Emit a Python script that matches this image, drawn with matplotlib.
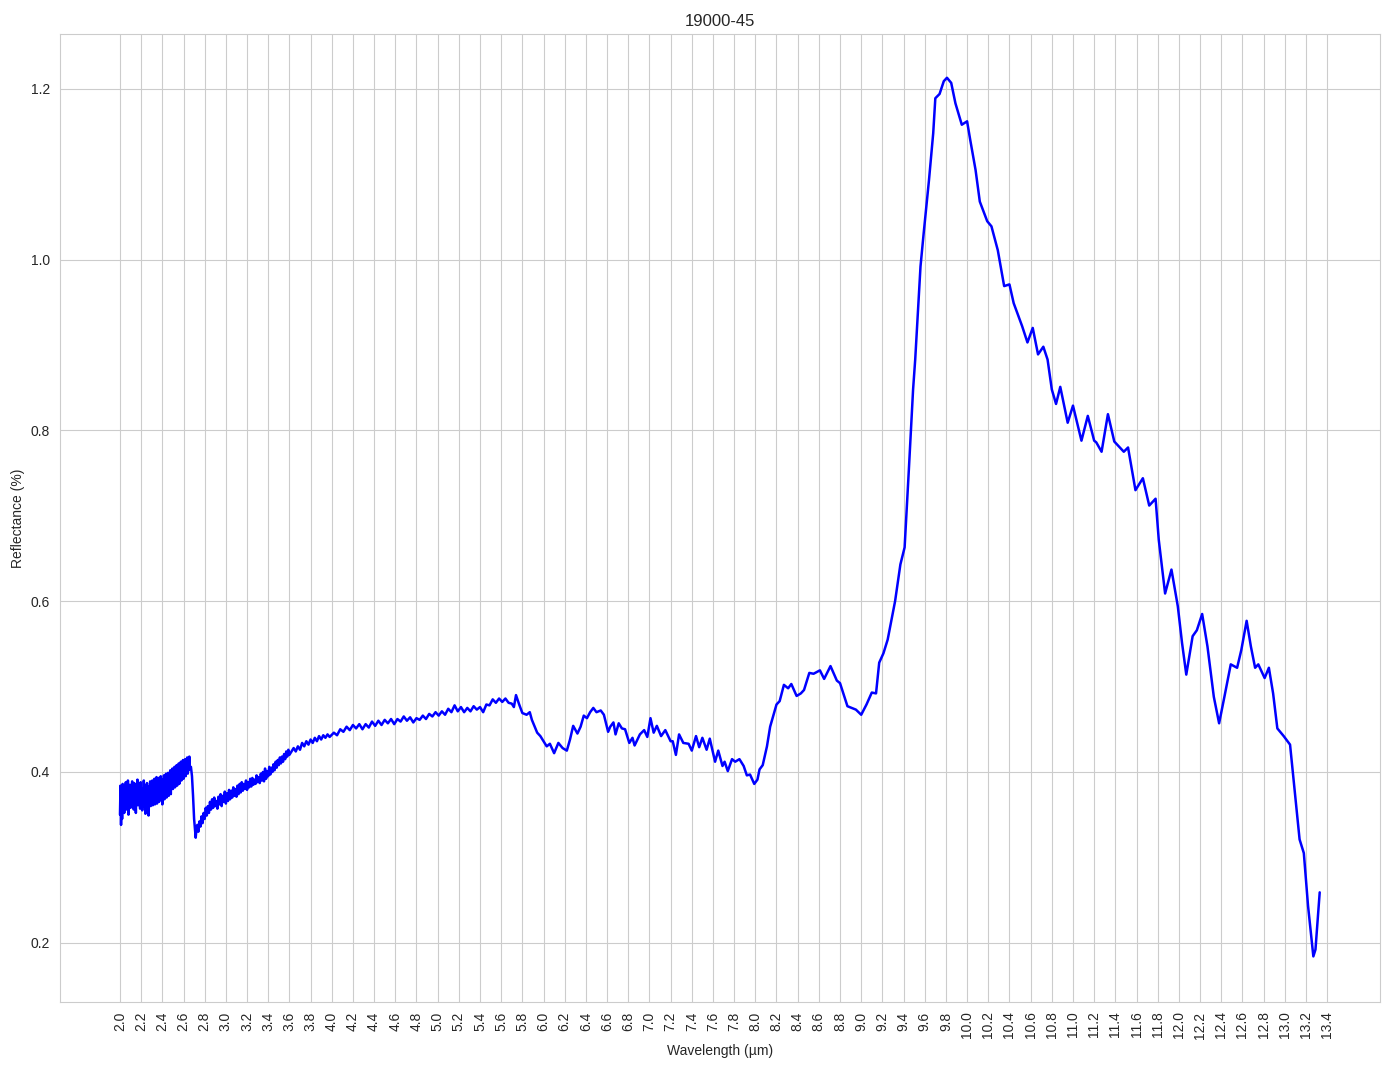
import numpy as np
import matplotlib
matplotlib.use("Agg")
import matplotlib.pyplot as plt
import seaborn as sns

sns.set_style("whitegrid")
plt.rcParams["font.family"] = ["Liberation Sans", "DejaVu Sans"]

title = "19000-45"

# noisy short-wave part, sampled every 5 nm from 2.000 um
swir_start, swir_step = 2.000, 0.005
swir_refl = [
    0.350, 0.384, 0.338, 0.378, 0.345, 0.386, 0.360, 0.381, 0.352, 0.384,
    0.362, 0.388, 0.356, 0.379, 0.366, 0.390, 0.350, 0.376, 0.362, 0.385,
    0.358, 0.380, 0.365, 0.389, 0.360, 0.382, 0.356, 0.387, 0.364, 0.378,
    0.352, 0.383, 0.366, 0.391, 0.361, 0.379, 0.368, 0.386, 0.357, 0.388,
    0.363, 0.381, 0.355, 0.374, 0.366, 0.390, 0.360, 0.384, 0.351, 0.379,
    0.365, 0.387, 0.358, 0.383, 0.349, 0.377, 0.364, 0.389, 0.360, 0.382,
    0.366, 0.390, 0.361, 0.384, 0.368, 0.392, 0.362, 0.387, 0.366, 0.394,
    0.363, 0.389, 0.370, 0.393, 0.365, 0.386, 0.371, 0.395, 0.368, 0.391,
    0.362, 0.390, 0.372, 0.396, 0.368, 0.392, 0.374, 0.398, 0.370, 0.394,
    0.378, 0.399, 0.372, 0.396, 0.380, 0.402, 0.374, 0.398, 0.382, 0.404,
    0.380, 0.402, 0.385, 0.406, 0.382, 0.404, 0.388, 0.408, 0.384, 0.406,
    0.390, 0.410, 0.386, 0.408, 0.392, 0.412, 0.390, 0.411, 0.395, 0.414,
    0.392, 0.410, 0.397, 0.415, 0.395, 0.413, 0.400, 0.417, 0.398, 0.414,
    0.402, 0.418, 0.404,
]

# the drop at 2.7 um
drop_pts = [
    [2.67, 0.406], [2.68, 0.395], [2.69, 0.372], [2.70, 0.345], [2.71, 0.330],
    [2.715, 0.323], [2.72, 0.330], [2.73, 0.338],
]

# recovery, sampled every 10 nm from 2.74 um
recov_start, recov_step = 2.74, 0.01
recov_refl = [
    0.330, 0.342, 0.336, 0.348, 0.340, 0.352, 0.345, 0.358, 0.349, 0.360,
    0.352, 0.365, 0.356, 0.368, 0.358, 0.370, 0.360, 0.366, 0.357, 0.371,
    0.362, 0.374, 0.360, 0.372, 0.365, 0.377, 0.363, 0.375, 0.366, 0.379,
    0.368, 0.378, 0.370, 0.382, 0.372, 0.380, 0.371, 0.384, 0.374, 0.386,
    0.376, 0.388, 0.378, 0.386, 0.380, 0.390, 0.379, 0.388, 0.382, 0.392,
    0.383, 0.393, 0.385, 0.391, 0.386, 0.396, 0.388, 0.394, 0.387, 0.398,
    0.390, 0.400, 0.389, 0.404, 0.392, 0.401, 0.395, 0.406, 0.397, 0.405,
    0.400, 0.409, 0.402, 0.412, 0.405, 0.414, 0.408, 0.417, 0.410, 0.418,
    0.412, 0.421, 0.415, 0.424, 0.418, 0.426, 0.420,
]

# 3.6 - 4.0 um
rise_pts = [
    [3.62, 0.424], [3.64, 0.428], [3.66, 0.424], [3.68, 0.430], [3.70, 0.426],
    [3.72, 0.434], [3.74, 0.430], [3.76, 0.436], [3.78, 0.432], [3.80, 0.438],
    [3.82, 0.434], [3.84, 0.440], [3.86, 0.436], [3.88, 0.442], [3.90, 0.438],
    [3.92, 0.443], [3.94, 0.440], [3.96, 0.444], [3.98, 0.441],
]

# plateau 4.0 - 6.6 um
plateau_pts = [
    [4.02, 0.446], [4.05, 0.443], [4.08, 0.450], [4.11, 0.447], [4.14, 0.453],
    [4.17, 0.449], [4.20, 0.455], [4.23, 0.451], [4.26, 0.456], [4.29, 0.450],
    [4.32, 0.456], [4.35, 0.452], [4.38, 0.459], [4.41, 0.454], [4.44, 0.460],
    [4.47, 0.455], [4.50, 0.461], [4.53, 0.457], [4.56, 0.462], [4.59, 0.456],
    [4.62, 0.462], [4.65, 0.459], [4.68, 0.465], [4.71, 0.460], [4.74, 0.464],
    [4.77, 0.458], [4.80, 0.463], [4.83, 0.461], [4.86, 0.466], [4.89, 0.462],
    [4.92, 0.468], [4.95, 0.465], [4.98, 0.470], [5.01, 0.466], [5.04, 0.471],
    [5.07, 0.467], [5.10, 0.474], [5.13, 0.470], [5.16, 0.478], [5.19, 0.471],
    [5.22, 0.476], [5.25, 0.470], [5.28, 0.475], [5.31, 0.471], [5.34, 0.477],
    [5.37, 0.473], [5.40, 0.476], [5.43, 0.470], [5.46, 0.479], [5.49, 0.478],
    [5.52, 0.485], [5.55, 0.481], [5.58, 0.486], [5.61, 0.482], [5.64, 0.486],
    [5.67, 0.481], [5.70, 0.480], [5.72, 0.476], [5.74, 0.490], [5.77, 0.479],
    [5.80, 0.469], [5.84, 0.467], [5.87, 0.470], [5.89, 0.461], [5.94, 0.446],
    [5.97, 0.442], [6.00, 0.436], [6.03, 0.430], [6.06, 0.433], [6.10, 0.422],
    [6.14, 0.434], [6.18, 0.428], [6.22, 0.425], [6.25, 0.438], [6.28, 0.454],
    [6.32, 0.445], [6.35, 0.453], [6.38, 0.466], [6.41, 0.463], [6.44, 0.470],
    [6.47, 0.475], [6.50, 0.470], [6.54, 0.472], [6.57, 0.467],
]

# 6.6 - 9.3 um
mir_pts = [
    [6.61, 0.447], [6.63, 0.453], [6.66, 0.458], [6.68, 0.444], [6.71, 0.457],
    [6.74, 0.451], [6.77, 0.450], [6.81, 0.434], [6.84, 0.440], [6.86, 0.431],
    [6.91, 0.444], [6.95, 0.449], [6.98, 0.441], [7.01, 0.463], [7.04, 0.446],
    [7.07, 0.454], [7.11, 0.442], [7.15, 0.449], [7.20, 0.436], [7.22, 0.436],
    [7.25, 0.420], [7.28, 0.444], [7.32, 0.434], [7.37, 0.433], [7.40, 0.425],
    [7.44, 0.442], [7.47, 0.429], [7.50, 0.440], [7.54, 0.426], [7.57, 0.439],
    [7.62, 0.412], [7.65, 0.425], [7.69, 0.407], [7.71, 0.412], [7.74, 0.401],
    [7.78, 0.415], [7.81, 0.412], [7.85, 0.415], [7.89, 0.407], [7.92, 0.396],
    [7.95, 0.397], [7.99, 0.386], [8.02, 0.391], [8.04, 0.403], [8.07, 0.408],
    [8.11, 0.430], [8.14, 0.453], [8.20, 0.479], [8.23, 0.483], [8.27, 0.502],
    [8.31, 0.498], [8.34, 0.503], [8.39, 0.489], [8.43, 0.492], [8.46, 0.496],
    [8.51, 0.516], [8.55, 0.515], [8.61, 0.519], [8.65, 0.509], [8.71, 0.524],
    [8.77, 0.507], [8.80, 0.504], [8.87, 0.477], [8.95, 0.473], [9.00, 0.467],
    [9.05, 0.479], [9.10, 0.493], [9.14, 0.492], [9.17, 0.528], [9.21, 0.539],
    [9.25, 0.555],
]

# reststrahlen peak and the fall-off, 9.3 - 13.33 um
peak_pts = [
    [9.32, 0.600], [9.37, 0.643], [9.41, 0.663], [9.45, 0.754], [9.49, 0.848],
    [9.51, 0.883], [9.56, 0.992], [9.59, 1.031], [9.64, 1.093], [9.68, 1.148],
    [9.70, 1.189], [9.74, 1.194], [9.78, 1.209], [9.81, 1.213], [9.85, 1.207],
    [9.89, 1.183], [9.95, 1.158], [10.00, 1.162], [10.03, 1.140], [10.08, 1.105],
    [10.12, 1.068], [10.19, 1.045], [10.23, 1.039], [10.29, 1.011], [10.35, 0.969],
    [10.40, 0.971], [10.44, 0.949], [10.52, 0.922], [10.57, 0.903], [10.62, 0.920],
    [10.67, 0.889], [10.72, 0.898], [10.76, 0.883], [10.80, 0.848], [10.84, 0.831],
    [10.88, 0.851], [10.95, 0.809], [11.00, 0.829], [11.08, 0.788], [11.14, 0.817],
    [11.20, 0.788], [11.22, 0.786], [11.27, 0.775], [11.33, 0.819], [11.39, 0.787],
    [11.48, 0.775], [11.52, 0.780], [11.59, 0.730], [11.66, 0.744], [11.72, 0.712],
    [11.78, 0.720], [11.81, 0.672], [11.87, 0.609], [11.93, 0.637], [11.99, 0.594],
    [12.03, 0.551], [12.07, 0.514], [12.13, 0.559], [12.17, 0.566], [12.22, 0.585],
    [12.27, 0.547], [12.33, 0.488], [12.38, 0.457], [12.43, 0.488], [12.49, 0.526],
    [12.55, 0.522], [12.59, 0.543], [12.64, 0.577], [12.68, 0.547], [12.72, 0.522],
    [12.75, 0.526], [12.81, 0.510], [12.85, 0.522], [12.89, 0.492], [12.93, 0.451],
    [12.99, 0.442], [13.05, 0.432], [13.09, 0.383], [13.14, 0.321], [13.18, 0.305],
    [13.22, 0.243], [13.27, 0.184], [13.29, 0.192], [13.33, 0.259],
]

swir_wl = swir_start + swir_step * np.arange(len(swir_refl))
recov_wl = recov_start + recov_step * np.arange(len(recov_refl))
rest = np.array(rise_pts + plateau_pts + mir_pts + peak_pts)
drop = np.array(drop_pts)

wl = np.concatenate([swir_wl, drop[:, 0], recov_wl, rest[:, 0]])
refl = np.concatenate([swir_refl, drop[:, 1], recov_refl, rest[:, 1]])

xticks = np.round(np.arange(2.0, 13.41, 0.2), 1)

fig, ax = plt.subplots(figsize=(13.94, 10.69), dpi=100)
fig.subplots_adjust(left=0.043, right=0.99, top=0.968, bottom=0.063)

ax.plot(wl, refl, color="blue", linewidth=1.8)

ax.set_xticks(xticks)
ax.set_xticklabels([f"{t:.1f}" for t in xticks], rotation=90)
ax.set_xlim(1.433, 13.90)
ax.set_ylim(0.131, 1.264)

ax.set_title(title)
ax.set_xlabel("Wavelength (µm)")
ax.set_ylabel("Reflectance (%)")

fig.savefig("out.png", dpi=100)
